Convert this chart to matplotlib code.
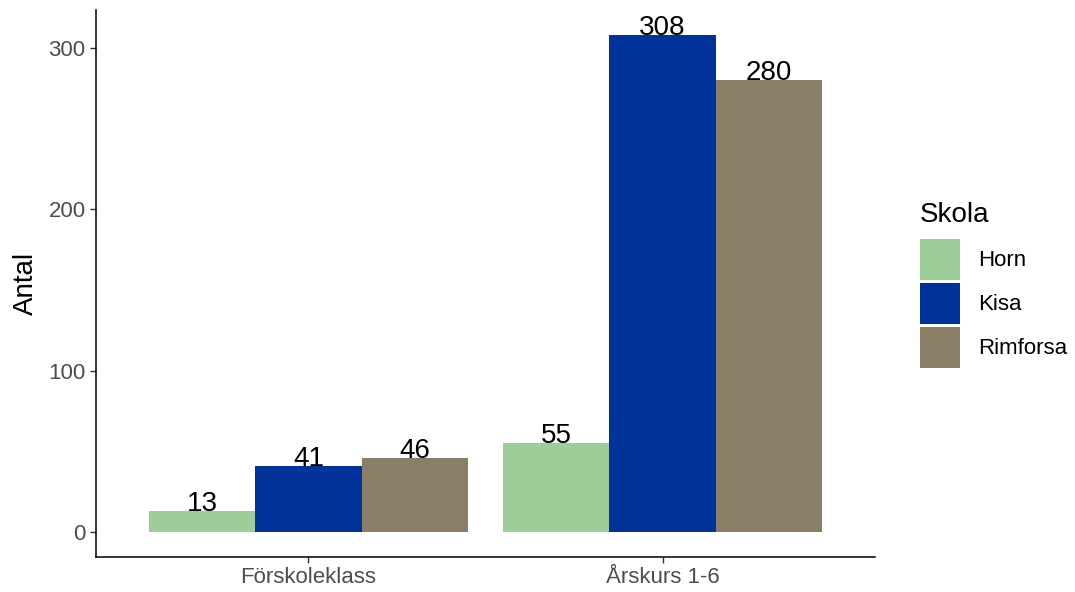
import numpy as np
import matplotlib.pyplot as plt
from matplotlib.patches import Patch

# data
categories = ['Förskoleklass', 'Årskurs 1-6']
schools = ['Horn', 'Kisa', 'Rimforsa']
counts = {
    'Horn': [13, 55],
    'Kisa': [41, 308],
    'Rimforsa': [46, 280],
}
colors = {'Horn': '#9DCE99', 'Kisa': '#003399', 'Rimforsa': '#8B7E66'}

FONT = 'Liberation Sans'

fig = plt.figure(figsize=(10.75, 5.92), dpi=100)
ax = fig.add_axes([96 / 1075, 35 / 592, (875 - 96) / 1075, (557 - 10) / 592])

x = np.arange(1, len(categories) + 1)
width = 0.3
for i, s in enumerate(schools):
    pos = x + (i - 1) * width
    ax.bar(pos, counts[s], width=width, color=colors[s], label=s)
    for px, v in zip(pos, counts[s]):
        ax.text(px, v, str(v), ha='center', va='baseline', fontsize=20, color='black',
                family=FONT)

ax.set_xlim(0.4, 2.6)
ax.set_ylim(-15.4, 323.4)
ax.set_xticks(x)
ax.set_xticklabels(categories)
ax.set_yticks([0, 100, 200, 300])
ax.set_ylabel('Antal', fontsize=20, family=FONT, labelpad=7)

for side in ['top', 'right']:
    ax.spines[side].set_visible(False)
for side in ['left', 'bottom']:
    ax.spines[side].set_linewidth(1.1)
ax.tick_params(axis='both', length=4.5, width=1.0, color='#333333',
               labelsize=16, labelcolor='#4D4D4D', pad=3)
for lab in ax.get_xticklabels() + ax.get_yticklabels():
    lab.set_family(FONT)

# legend title drawn separately so its gap to the keys can be matched
fig.text(920 / 1075, 1 - 222 / 592, 'Skola', fontsize=20, family=FONT,
         ha='left', va='baseline')
handles = [Patch(facecolor=colors[s], edgecolor='none') for s in schools]
leg = fig.legend(handles, schools, loc='upper left', bbox_to_anchor=(920 / 1075, 1 - 239 / 592),
                 frameon=False, handlelength=1.8, handleheight=2.47,
                 labelspacing=0.13, handletextpad=0.8,
                 borderaxespad=0, borderpad=0,
                 prop={'family': FONT, 'size': 16})

fig.savefig('out.png', dpi=100)
